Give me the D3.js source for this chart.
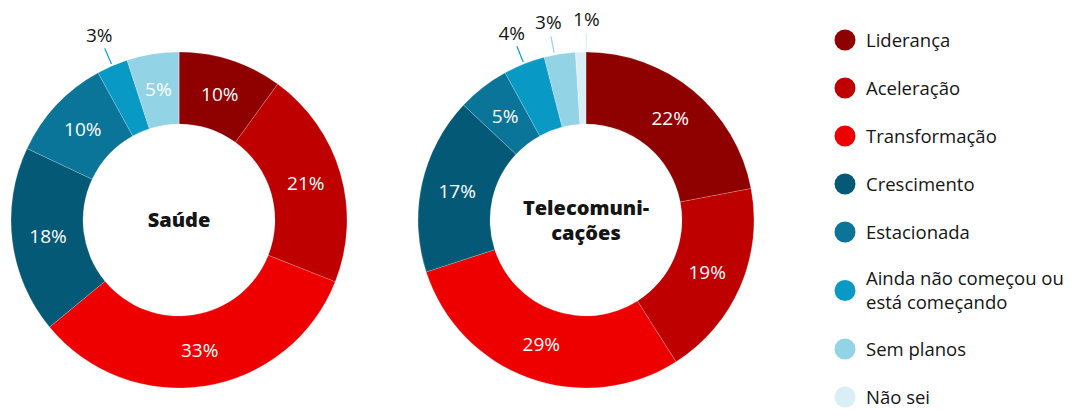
<!DOCTYPE html>
<html>
  <head>
    <meta charset="utf-8">
    <style>
      body { margin: 0; background: #fff; }
      text { font-family: "Open Sans", sans-serif; }
    </style>
    <script src="https://d3js.org/d3.v7.min.js"></script>
  </head>
  <body>
    <svg width="1089" height="410"></svg>
    <script>
      var categories = ["Liderança", "Aceleração", "Transformação", "Crescimento", "Estacionada",
        "Ainda não começou ou\nestá começando", "Sem planos", "Não sei"];
      var colors = ["#8f0000", "#be0000", "#ee0000", "#045a76", "#0b7599", "#0899c5", "#93d3e6", "#daeef6"];
      var saude = [10, 21, 33, 18, 10, 3, 5, 0];
      var telecom = [22, 19, 29, 17, 5, 4, 3, 1];
      var titles = ["Saúde", "Telecomuni-\ncações"];

      var svg = d3.select("svg");
      var outerR = 168, innerR = 96, labelR = 132;

      var arc = d3.arc().innerRadius(innerR).outerRadius(outerR);
      var pie = d3.pie().sort(null).value(function (d) { return d; });

      function donut(values, title, cx, cy) {
        var g = svg.append("g").attr("transform", "translate(" + cx + "," + cy + ")");
        var arcs = pie(values);

        g.selectAll("path")
          .data(arcs)
          .enter()
          .append("path")
          .attr("d", arc)
          .attr("fill", function (d, i) { return colors[i]; })
          .attr("stroke", "rgba(255,255,255,0.4)")
          .attr("stroke-width", 0.5);

        // inside labels
        g.selectAll(".inlab")
          .data(arcs.filter(function (d) { return d.value >= 5; }))
          .enter()
          .append("text")
          .attr("class", "inlab")
          .attr("x", function (d) { return labelR * Math.sin((d.startAngle + d.endAngle) / 2); })
          .attr("y", function (d) { return -labelR * Math.cos((d.startAngle + d.endAngle) / 2); })
          .attr("dy", "0.36em")
          .attr("text-anchor", "middle")
          .attr("fill", "#fff")
          .style("font-size", "19px")
          .text(function (d) { return d.value + "%"; });

        // outside labels for small slices, spread apart a little
        var small = arcs.filter(function (d) { return d.value > 0 && d.value < 5; })
          .map(function (d) { return { d: d, a: (d.startAngle + d.endAngle) / 2 }; });
        var gap = 0.19;
        for (var k = 0; k < 20; k++) {
          for (var j = 1; j < small.length; j++) {
            var diff = small[j].a - small[j - 1].a;
            if (diff < gap) {
              var push = (gap - diff) / 2;
              small[j - 1].a -= push;
              small[j].a += push;
            }
          }
        }
        var og = g.selectAll(".outlab").data(small).enter().append("g").attr("class", "outlab");
        og.append("line")
          .attr("x1", function (s) { return 170 * Math.sin(s.a); })
          .attr("y1", function (s) { return -170 * Math.cos(s.a); })
          .attr("x2", function (s) { return 187 * Math.sin(s.a); })
          .attr("y2", function (s) { return -187 * Math.cos(s.a); })
          .attr("stroke", function (s) { return colors[s.d.index]; })
          .attr("stroke-width", 1.2);
        og.append("text")
          .attr("x", function (s) { return 201 * Math.sin(s.a); })
          .attr("y", function (s) { return -201 * Math.cos(s.a); })
          .attr("dy", "0.36em")
          .attr("text-anchor", "middle")
          .attr("fill", "#151515")
          .style("font-size", "19px")
          .text(function (s) { return s.d.value + "%"; });

        // title in the hole
        var lines = title.split("\n");
        var t = g.append("text")
          .attr("text-anchor", "middle")
          .attr("fill", "#151515")
          .style("font-size", "20px")
          .style("font-weight", 800);
        lines.forEach(function (l, i) {
          t.append("tspan")
            .attr("x", 0)
            .attr("y", (i - (lines.length - 1) / 2) * 25)
            .attr("dy", "0.36em")
            .text(l);
        });
      }

      donut(saude, titles[0], 179, 220);
      donut(telecom, titles[1], 586, 220);

      // legend
      var lg = svg.append("g");
      var y = 40, prevLines = 1;
      categories.forEach(function (c, i) {
        var lines = c.split("\n");
        if (i > 0) y += 48 + (prevLines - 1) * 10.5 + (lines.length - 1) * 10.5;
        lg.append("circle").attr("cx", 845).attr("cy", y).attr("r", 10.5).attr("fill", colors[i]);
        var t = lg.append("text").attr("fill", "#151515").style("font-size", "18.5px");
        lines.forEach(function (l, k) {
          t.append("tspan")
            .attr("x", 866)
            .attr("y", y + (k - (lines.length - 1) / 2) * 23.5)
            .attr("dy", "0.36em")
            .text(l);
        });
        prevLines = lines.length;
      });
    </script>
  </body>
</html>
